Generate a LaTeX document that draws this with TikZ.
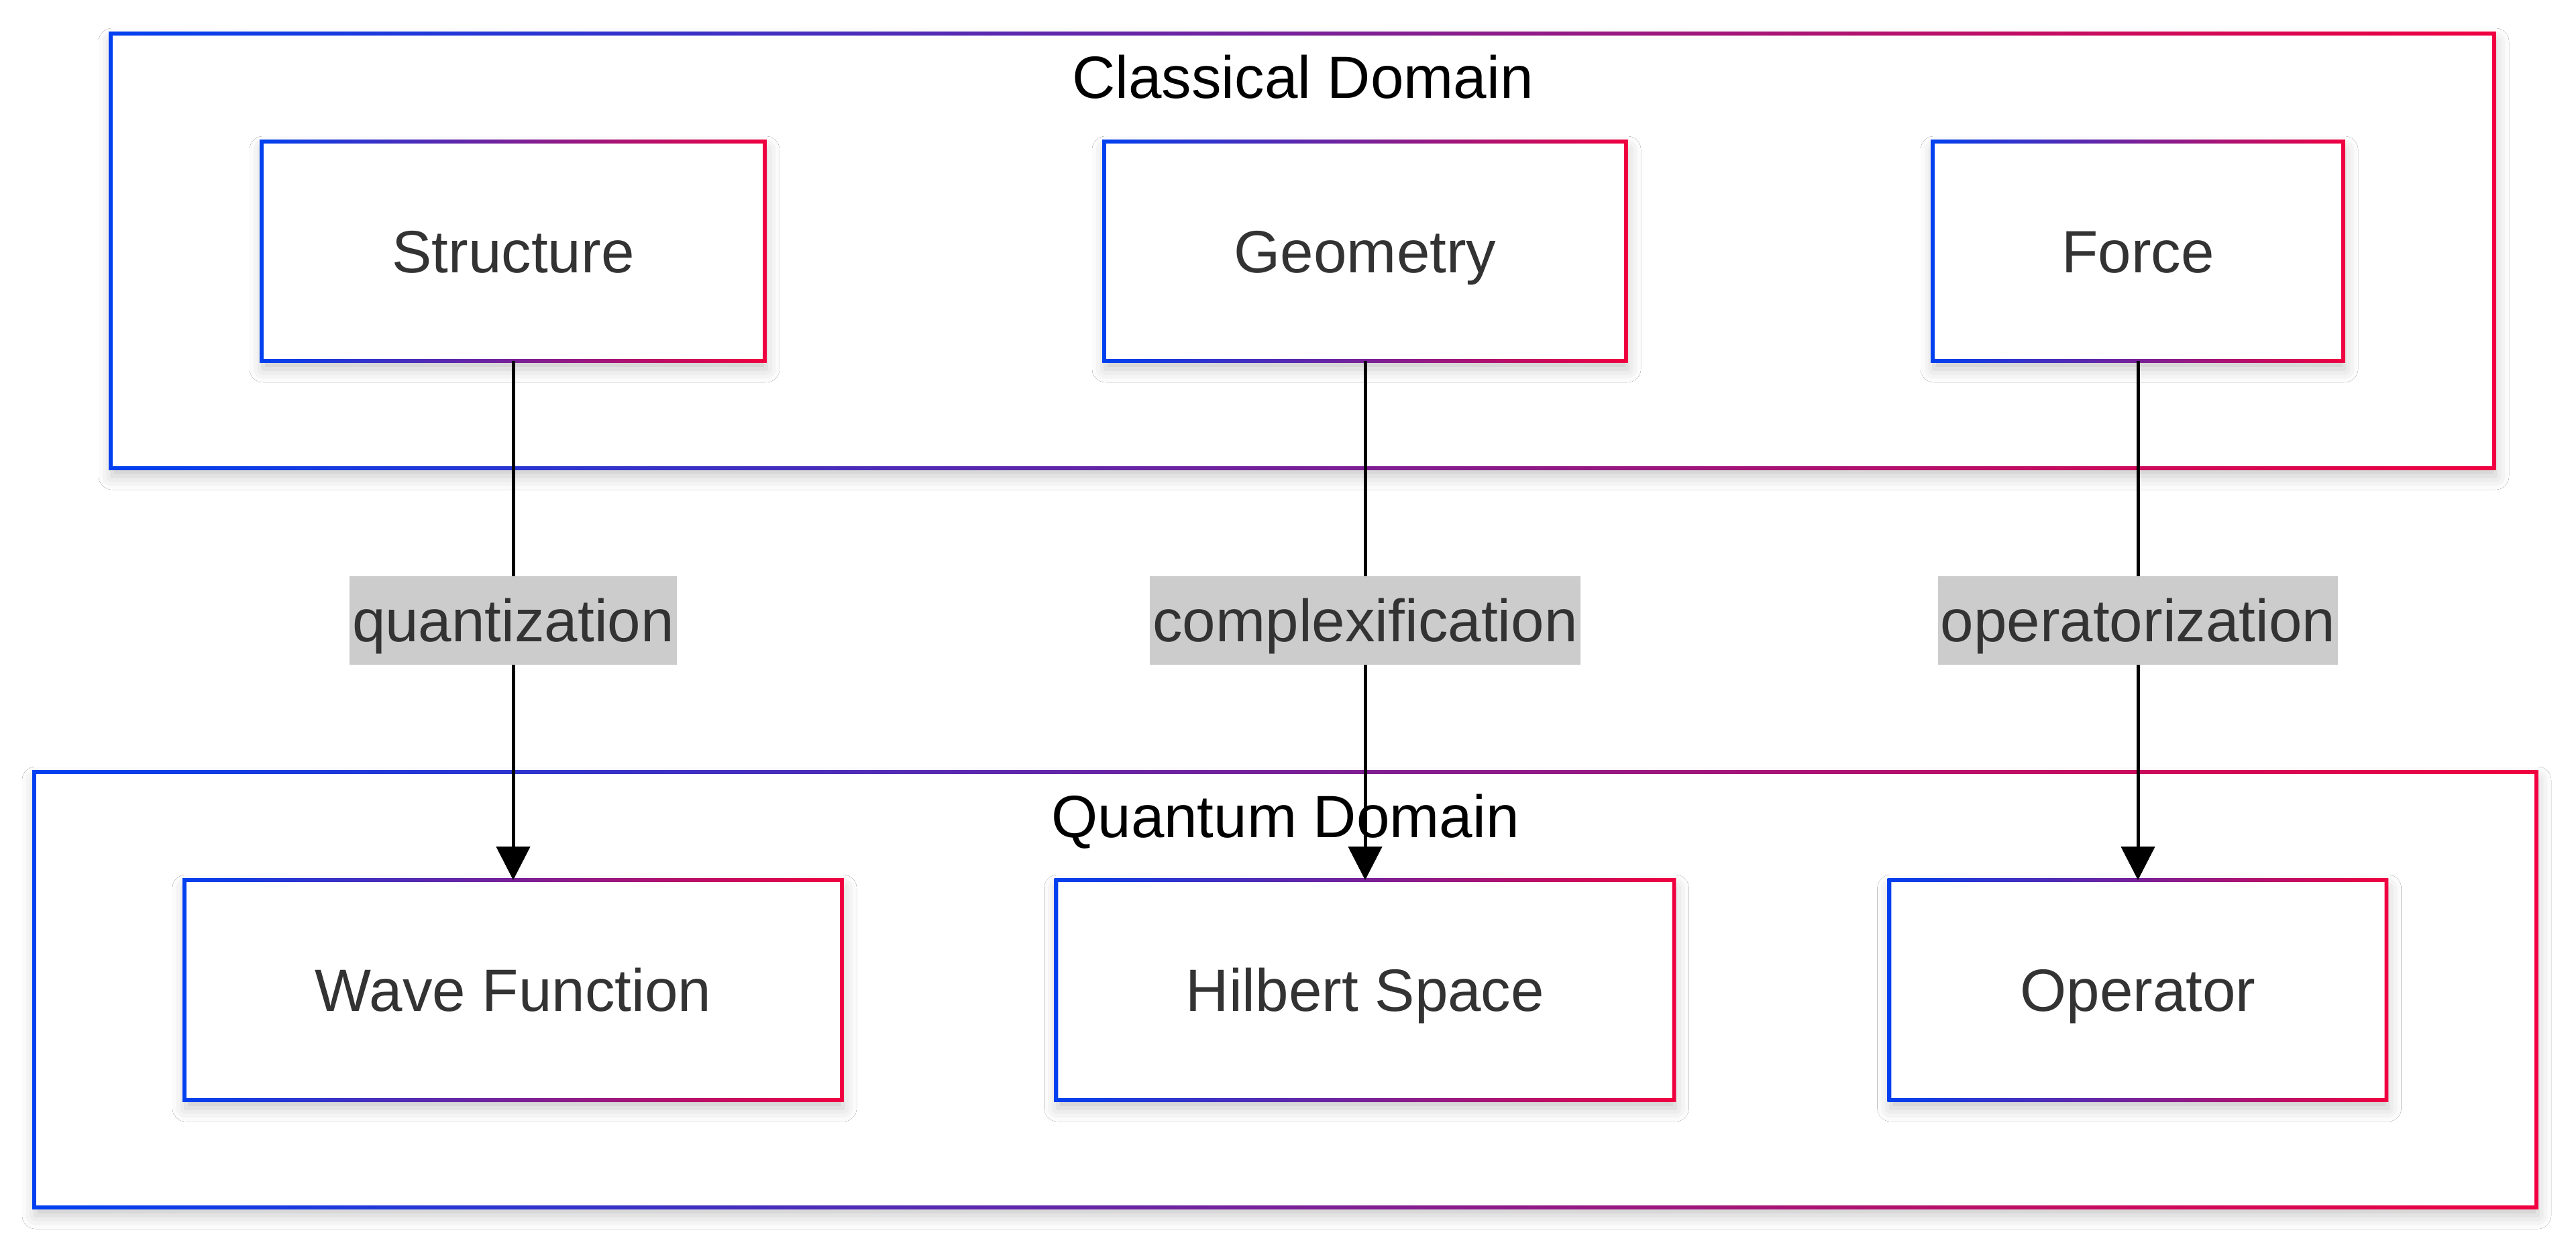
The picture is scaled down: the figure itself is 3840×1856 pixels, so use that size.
\documentclass[tikz,border=0pt]{standalone}
\usepackage{fontspec}
\setmainfont{Liberation Sans}
\usetikzlibrary{arrows.meta,shadows.blur}
\definecolor{gb}{RGB}{0,64,240}
\definecolor{gr}{RGB}{240,0,64}
\definecolor{txt}{HTML}{333333}
\definecolor{lblbg}{HTML}{CCCCCC}
\newcommand{\bigfont}{\fontsize{44.5}{53}\selectfont}
\tikzset{
  shad/.style={blur shadow={shadow xshift=1pt, shadow yshift=-6pt, shadow blur radius=10pt, shadow opacity=22}},
  box/.style={rectangle, fill=white, inner sep=0pt, outer sep=0pt, text=txt, font=\bigfont, text height=32.4pt, text depth=0.7pt, minimum height=163.5pt, shad},
  container/.style={rectangle, fill=white, inner sep=0pt, outer sep=0pt, shad},
  ctitle/.style={text=black, font=\bigfont, inner sep=0pt, text height=32.4pt, text depth=0.7pt},
  lbl/.style={fill=lblbg, text=txt, font=\bigfont, inner xsep=2pt, inner ysep=0pt, text height=32.4pt, text depth=0.7pt, minimum height=66pt},
  conn/.style={line width=2.5pt, -{Triangle[width=25pt,length=25pt]}},
  gframe/.style={even odd rule, left color=gb, right color=gr}
}
\newcommand{\gfr}[1]{\shade[gframe]
  ([shift={(-1.4pt,-1.4pt)}]#1.south west) rectangle ([shift={(1.4pt,1.4pt)}]#1.north east)
  ([shift={(1.4pt,1.4pt)}]#1.south west) rectangle ([shift={(-1.4pt,-1.4pt)}]#1.north east);}
\begin{document}
\begin{tikzpicture}[x=0.5pt,y=0.5pt]
\useasboundingbox[fill=white] (0,0) rectangle (3840,-1856);
% containers
\node[container, minimum width=1776.5pt, minimum height=324pt] (cd) at (1941.5,-374) {};
\node[container, minimum width=1865pt, minimum height=324.5pt] (qd) at (1916,-1475.5) {};
\gfr{cd}
\gfr{qd}
\node[ctitle] (cdt) at (1942,-115) {Classical Domain};
\node[ctitle] (qdt) at (1916,-1217) {Quantum Domain};
% nodes
\node[box, minimum width=375pt] (s) at (765,-374.5) {Structure};
\node[box, minimum width=389pt] (g) at (2035,-374.5) {Geometry};
\node[box, minimum width=306pt] (f) at (3187,-374.5) {Force};
\node[box, minimum width=490pt, minimum height=164pt] (w) at (765,-1476) {Wave Function};
\node[box, minimum width=460.5pt, minimum height=164pt] (h) at (2035,-1476) {Hilbert Space};
\node[box, minimum width=370.5pt, minimum height=164pt] (o) at (3187,-1476) {Operator};
\gfr{s}\gfr{g}\gfr{f}\gfr{w}\gfr{h}\gfr{o}
% connectors
\draw[conn] (s.south) -- node[lbl] (l1) {quantization} (w.north);
\draw[conn] (g.south) -- node[lbl] (l2) {complexification} (h.north);
\draw[conn] (f.south) -- node[lbl] (l3) {operatorization} (o.north);
\end{tikzpicture}
\end{document}
